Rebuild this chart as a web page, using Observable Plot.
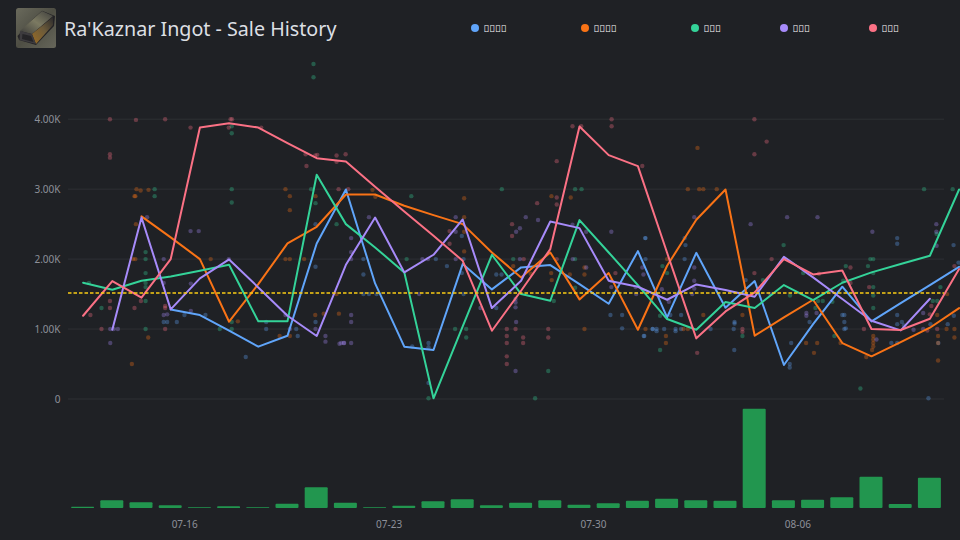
<!DOCTYPE html>
<html>
<head>
<meta charset="utf-8">
<script src="https://cdn.jsdelivr.net/npm/d3@7"></script>
<script src="https://cdn.jsdelivr.net/npm/@observablehq/plot@0.6"></script>
<style>
html,body{margin:0;padding:0;background:#1f2125;width:960px;height:540px;overflow:hidden;font-family:"Noto Sans",sans-serif}
#head{position:relative;height:56px}
#icon{position:absolute;left:16px;top:8px;width:40px;height:40px}
#title{position:absolute;left:64px;top:15px;font-size:19.7px;line-height:28px;color:#dcdfe3;white-space:nowrap}
.lg{position:absolute;top:22px;height:12px;display:flex;align-items:center;font-size:9.6px;color:#ffffff;white-space:nowrap}
.lg i{display:block;width:8px;height:8px;border-radius:50%;margin-right:4.5px}
svg{display:block}
</style>
</head>
<body>
<div id="head">
<svg id="icon" viewBox="0 0 40 40">
<defs>
<linearGradient id="bg" x1="0" y1="0" x2="1" y2="1"><stop offset="0" stop-color="#6a6a5c"/><stop offset=".5" stop-color="#4e4e44"/><stop offset="1" stop-color="#66665a"/></linearGradient>
<linearGradient id="side" x1="0" y1="1" x2="1" y2="0"><stop offset="0" stop-color="#9a6c24"/><stop offset=".55" stop-color="#6b5a3a"/><stop offset="1" stop-color="#2a2a2c"/></linearGradient>
<linearGradient id="top" x1="0" y1="1" x2="1" y2="0"><stop offset="0" stop-color="#3c3c3a"/><stop offset=".5" stop-color="#7c7a62"/><stop offset="1" stop-color="#3e3e3c"/></linearGradient>
</defs>
<rect width="40" height="40" rx="2.5" fill="url(#bg)"/>
<path d="M1.5 28 L17 11 L26 2.7 L39 8 L38 18 L20 37 L3 32 Z" fill="#232225"/>
<path d="M4 23 L26 3 L37 8 L16 26 Z" fill="url(#top)"/>
<path d="M16 26 L37 9 L37 17 L20 36 Z" fill="url(#side)"/>
<path d="M4 23 L16 26 L20 36 L3.5 32 Z" fill="#3d3b3e"/>
<path d="M6.5 26 L15 28 L17.5 34 L6 31 Z" fill="#252427"/>
</svg>
<div id="title">Ra'Kaznar Ingot - Sale History</div>
<div id="legend"></div>
</div>
<div id="price"></div>
<div id="volume"></div>
<script>
// Days and tick labels
const startDay = "2024-07-12";
const endDay = "2024-08-11";
const tickDays = ["2024-07-16", "2024-07-23", "2024-07-30", "2024-08-06"];
const priceTicks = [0, 1000, 2000, 3000, 4000];
const averagePrice = 1514;

// Series names (unreadable glyphs in the reference) and colours
const seriesNames = ["\uE000\uE000\uE000\uE000", "\uE000\uE000\uE000\uE000", "\uE000\uE000\uE000", "\uE000\uE000\uE000", "\uE000\uE000\uE000"];
const seriesColors = ["#60a5fa", "#f97316", "#34d399", "#a78bfa", "#fb7185"];

// Daily average price per series, one value per day (first value is the noon of the first day)
const blueLine = [null,null,null,1281,1200,976,748,905,2224,2995,1652,748,700,1929,1567,1881,1914,1643,1362,2114,1167,2090,1305,1686,486,1071,1605,1110,1371,1629,1890];
const orangeLine = [null,null,2610,2310,2000,1105,1643,2224,2462,2924,2924,2762,2629,2500,2095,1738,2095,1424,1800,990,1905,2562,2995,905,1167,1419,800,610,814,1019,1300];
const greenLine = [1662,1562,1690,1752,1833,1919,1110,1110,3205,2500,2167,1810,10,1038,2062,1500,1405,2557,2095,1629,1143,990,1386,1300,1629,1414,1662,1810,1929,2048,2995];
const purpleLine = [null,990,2595,1281,1724,1995,1595,1190,900,1919,2595,1810,2062,2567,1300,1690,2538,2443,1690,1605,1419,1638,1557,1462,2033,1738,1429,1119,981,1433,null];
const pinkLine = [1190,1686,1448,2000,3881,3943,3881,3657,3443,3395,3033,2681,2333,1976,976,1548,2143,3895,3486,3329,2090,867,1252,1524,2000,1781,1838,1000,986,1148,1857];

// Daily sale volume
const volumes = [13,77,57,27,7,17,7,43,207,53,7,23,67,87,27,53,77,33,47,73,93,77,73,993,77,83,107,313,40,303];

// Individual sales: [day offset from the start, price]
const blueSales = [[3.71,1100],[3.26,1100],[3.38,1100],[3.97,1200],[4.69,1200],[6.07,600],[6.77,1100],[6.77,1000],[7.8,1000],[7.85,900],[8.46,2500],[8.46,1890],[8.46,1100],
[10.1,2000],[10.1,1780],[10.1,1500],[10.29,1500],[10.55,1500],[11.77,750],[12.33,800],[12.33,740],[12.33,230],[12.58,2000],[12.96,1900],[13.47,2330],[13.47,1800],[13.53,1500],[13.53,2000],[14.65,1780],[14.83,1780],[14.65,1300],[16.08,1900],[18.56,1200],[18.96,1200],[18.96,1010],[19.72,900],[20.01,1000],[20.14,1000],[20.14,970],[19.76,2000],[19.76,2300],
[19.75,2300],[21.1,2000],[21.13,2200],[21.1,2300],[19.7,900],[20,1000],[20.4,1000],[20.79,1000],[20.79,970],[20.98,1200],[20.98,1000],[20.61,1200],[21.99,1000],[22.81,1100],[22.81,1080],[22.78,1000],[22.8,700],[23.19,1700],[24.75,800],[24.7,500],[24.7,450],[25.38,1100],[26.57,1100],[26.5,1200],[26.57,1200],[26.57,1000],[26.62,1010],[28.38,2300],[28.38,2220],[28.38,1200],[28.38,1070],[28.54,1100],[28.61,1050],[28.18,800],[28.38,800],[29.45,10],[29.52,1070],[29.79,800],[30.11,1070],[30.31,2200],[30.48,1950],[30.32,1190]];
const orangeSales = [[2.29,2900],[2.26,2900],[2.33,3000],[2.47,2980],[2.74,2990],[2.31,2500],[2.21,2000],[2.29,2000],[2.17,500],[2.73,880],[4.87,2000],[5.8,1110],[7.23,900],[7.58,900],[7.43,3000],[7.58,2900],[7.58,2700],[7.43,2000],[7.58,2000],[8.07,2000],[8.46,2900],[8.45,1200],[8.74,1220],[9.26,1220],[9.18,1500],
[10.41,2990],[10.51,2890],[13.55,2870],[13.55,2600],[13.55,2390],[13.55,2110],[16.54,2900],[17.2,2880],[15.83,1790],[16.53,1800],[17.17,1780],[16.55,1700],[17.67,1880],[17.67,1780],[17.67,1000],[19.76,1000],[15.23,1900],
[21.54,3590],[21.21,3000],[21.6,3000],[21.74,3000],[22.2,3000],[20.5,2000],[20.46,900],[20.46,800],[21.06,1000],[21.21,1000],[21.74,1200],[23.08,1200],[25.26,800],[25.64,800],[25.53,660],[26.44,800],[27.32,600],[27.56,900],[27.56,850],[27.56,800],[27.56,750],[27.52,700],[29.75,1200],[29.78,900],[29.78,800],[29.78,550],[30.09,1500],[30.34,1000],[30.34,880],[30.07,1000]];
const greenSales = [[0.7,1660],[1.13,1300],[2.95,3000],[2.95,2900],[2.64,2100],[2.64,2000],[2.64,1800],[2.64,1660],[2.64,1600],[2.64,1400],[2.64,1000],[5.18,1000],[5.59,3900],[5.59,3800],[5.59,3000],[5.59,2810],[5.59,1100],[5.59,1000],[8.31,3000],[8.46,2800],[9.18,2500],[8.39,4600],[8.39,4790],
[11.74,2900],[14.84,3000],[17.35,3000],[17.57,3000],[11.58,2000],[13.24,1000],[13.62,1000],[13.62,880],[15.23,2000],[12.33,10],[15.98,10],[16.43,400],[17.35,2000],[16.62,1400],[17.35,1590],
[20.34,1900],[20.5,1800],[20.26,1190],[20.26,700],[23.08,900],[24.49,2200],[24.71,1480],[25.16,1800],[25.58,1300],[25.67,1400],[25.83,1400],[26.16,1390],[26.23,900],[26.62,1900],[27.38,1900],[27.46,2000],[27.56,2000],[27.56,1800],[27.56,1600],[27.56,1480],[27.56,1300],[27.12,150],[29.3,3000],[30.28,3000],[29.86,1600],[29.6,1400],[29.75,1400],[29.73,2360],[23.78,1700],[26.53,1690]];
const purpleSales = [[1.43,1000],[1.55,1000],[1.69,1000],[1.43,800],[2.69,2600],[3.26,2000],[3.26,1660],[3.26,1200],[3.38,1210],[4.18,2400],[4.46,2400],[4.19,1650],[4.19,1260],[5.49,2000],[7.43,1200],[7.58,1000],[8.46,1000],[8.8,900],[8.8,820],[9.28,790],[9.44,800],[9.68,800],[9.68,1200],[9.68,1100],[9.68,2300],[9.68,2100],[9.68,2000],
[9.43,800],[9.34,800],[10.29,2600],[12.01,1500],[12.12,2000],[12.31,2000],[13.26,2600],[13.26,2000],[13.26,2390],[14.11,1300],[15.31,1430],[15.31,1380],[15.31,1310],[15.33,1100],[15.31,400],[15.33,2390],[15.46,2440],[15.66,2600],[16.08,2560],[15.46,2000],[17.26,2490],[17.73,2390],[17.73,1880],[17.27,2000],[18.59,2390],[18.59,1690],[18.59,1600],[19.44,1500],[19.42,1600],[19.65,1880],[19.69,1780],
[20.32,1570],[20.56,1390],[21.43,2600],[21.43,1880],[21.43,1690],[21.43,1580],[21.36,1500],[23.36,2500],[24.61,2600],[25.65,2600],[24.04,1500],[25.27,1230],[25.27,1190],[25.62,1230],[27.53,2390],[27.67,850],[29.27,1230],[28.94,990],[29.72,2500],[29.72,2390],[29.73,2190],[29.27,1000]];
const pinkSales = [[0.75,1200],[1.13,1000],[1.42,4000],[1.42,3500],[1.42,3450],[1.42,1400],[1.42,1300],[2.31,3990],[2.26,1300],[2.48,1400],[3.31,4000],[3.31,1330],[3.31,1300],[3.31,1000],[4.18,3880],[5.49,3880],[5.55,4000],[5.6,4000],[6.6,3880],[8.12,3500],[8.15,3330],[8.45,3480],[8.52,3490],[9.18,3480],[9.18,3390],[9.49,3500],[9.58,3000],[9.25,3000],
[13.05,2400],[13.05,2220],[15.19,2500],[15.19,2330],[16.05,2800],[16.72,3400],[16.72,2880],[16.72,2780],[17.26,3900],[17.56,3900],[18.6,4000],[18.6,3900],[19.65,3330],[15.01,1000],[15.31,1000],[15.01,900],[15.01,800],[15.01,610],[15.01,500],[15.57,880],[15.57,800],[16.43,1000],[16.43,880],[15.59,2000],[16.72,2000],[18.73,1800],
[21.53,660],[23.49,4000],[23.91,3680],[23.49,3500],[24.08,2000],[23.49,1800],[23.08,1000],[23.08,960],[26.78,1880],[26.78,1660],[25.7,1790],[27.24,1000],[27.42,1600],[29.55,1330],[29.5,1210],[29.75,1000],[30.34,1900],[29.41,980]];

const allSales = [blueSales, orangeSales, greenSales, purpleSales, pinkSales];
const allLines = [blueLine, orangeLine, greenLine, purpleLine, pinkLine];

const parse = d3.utcParse("%Y-%m-%d");
const t0 = parse(startDay), t1 = parse(endDay);
const at = d => new Date(+t0 + d * 864e5);
const xOpts = {type: "utc", domain: [t0, t1]};
const baseStyle = {background: "transparent", fontFamily: "'Noto Sans',sans-serif", fontSize: "10px"};
const tickGray = "#8d9099";

// Legend
const legendX = [471, 581, 691, 780, 869];
const legendEl = document.getElementById("legend");
seriesNames.forEach((n, i) => {
  const row = document.createElement("div");
  row.className = "lg";
  row.style.left = legendX[i] + "px";
  const dot = document.createElement("i");
  dot.style.background = seriesColors[i];
  row.append(dot, n);
  legendEl.append(row);
});

// Price panel
const marks = [
  Plot.gridY(priceTicks, {stroke: "#2e3034", strokeOpacity: 1, strokeWidth: 1}),
  Plot.axisY({ticks: priceTicks, tickFormat: v => v ? (v / 1000).toFixed(2) + "K" : "0", tickSize: 0, tickPadding: 8, dy: 0.5, fill: tickGray, label: null})
];
allSales.forEach((rows, i) => {
  marks.push(Plot.dot(rows, {x: r => at(r[0]), y: r => r[1], r: 2.2, fill: seriesColors[i], fillOpacity: 0.32, stroke: "none"}));
});
allLines.forEach((vals, i) => {
  const rows = vals.map((v, k) => ({d: at(k + 0.5), v})).filter(r => r.v !== null);
  marks.push(Plot.line(rows, {x: "d", y: "v", stroke: seriesColors[i], strokeWidth: 2, curve: "linear"}));
});
marks.push(Plot.ruleY([averagePrice], {stroke: "#facc15", strokeWidth: 1.5, strokeDasharray: "3.5,2"}));

document.getElementById("price").append(Plot.plot({
  width: 960, height: 350,
  marginLeft: 68, marginRight: 16, marginTop: 0, marginBottom: 0,
  style: baseStyle,
  x: {...xOpts, axis: null},
  y: {domain: [0, 4000], range: [342.5, 62.7]},
  marks
}));

// Volume panel
const volRows = volumes.map((v, k) => ({a: at(k), b: at(k + 1), v}));
document.getElementById("volume").append(Plot.plot({
  width: 960, height: 134,
  marginLeft: 68, marginRight: 16, marginTop: 2, marginBottom: 32,
  style: baseStyle,
  x: {...xOpts},
  y: {domain: [0, 1000], range: [102, 2], axis: null},
  marks: [
    Plot.rectY(volRows, {x1: "a", x2: "b", y1: 0, y2: "v", fill: "#22964f", insetLeft: 3.1, insetRight: 3.1, r: 1}),
    Plot.axisX({ticks: tickDays.map(parse), tickFormat: d3.utcFormat("%m-%d"), tickSize: 0, tickPadding: 12, dx: -0.6, fill: tickGray, label: null})
  ]
}));
</script>
</body>
</html>
